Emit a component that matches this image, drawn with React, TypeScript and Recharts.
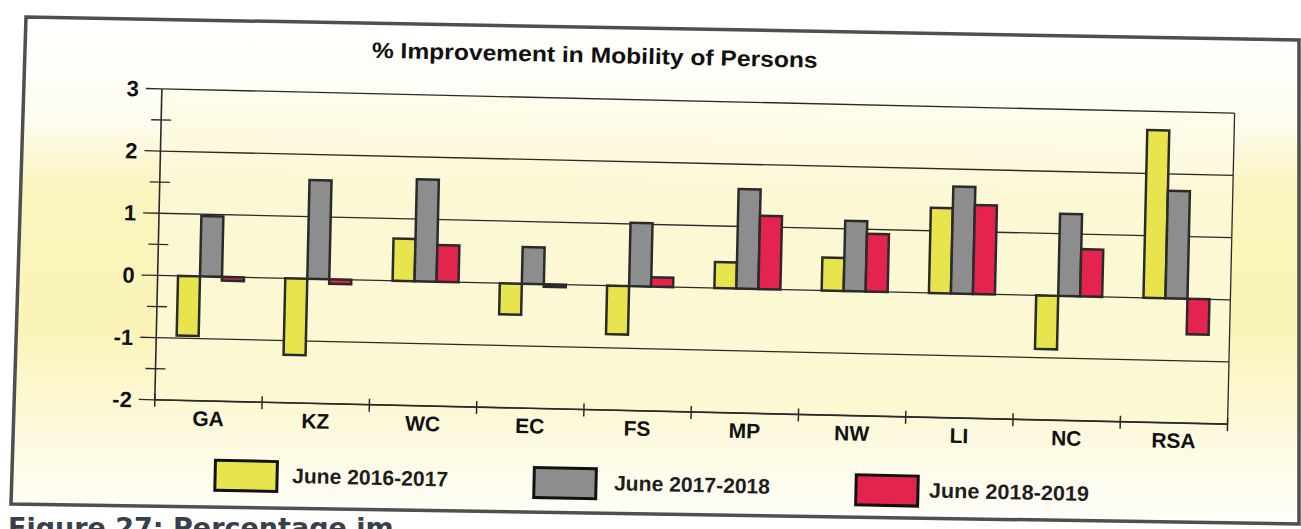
import React from 'react';
import { BarChart, Bar, XAxis, YAxis, CartesianGrid } from 'recharts';

// ---------- data ----------
const categories = ['GA', 'KZ', 'WC', 'EC', 'FS', 'MP', 'NW', 'LI', 'NC', 'RSA'];
const june2016_2017 = [-0.96, -1.23, 0.68, -0.5, -0.78, 0.42, 0.53, 1.37, -0.86, 2.7];
const june2017_2018 = [0.97, 1.59, 1.64, 0.59, 1.02, 1.6, 1.13, 1.72, 1.32, 1.73];
const june2018_2019 = [-0.06, -0.07, 0.59, -0.04, 0.15, 1.18, 0.93, 1.43, 0.76, -0.57];
const seriesNames = ['June 2016-2017', 'June 2017-2018', 'June 2018-2019'];
const seriesKeys = ['s0', 's1', 's2'];
const seriesColors = ['#e8e44e', '#8d8d8d', '#e4244e'];
const yTicks = [-2, -1.5, -1, -0.5, 0, 0.5, 1, 1.5, 2, 2.5, 3];
const gridValues = [-2, -1, 0, 1, 2, 3];
const titleText = '% Improvement in Mobility of Persons';
const captionText = 'Figure 27: Percentage im';

const data = categories.map((name, i) => ({
  name,
  s0: june2016_2017[i],
  s1: june2017_2018[i],
  s2: june2018_2019[i],
}));

// ---------- layout ----------
const W = 1301;
const H = 529;
const MARGIN = { top: 100, right: 70, bottom: 93, left: 98 };
const Y_AXIS_W = 60;
const X_AXIS_H = 25;
const PLOT_W = W - MARGIN.left - Y_AXIS_W - MARGIN.right;
const FONT = '"Liberation Sans", Arial, Helvetica, sans-serif';
const INK = '#2a2a2a';
const legendLayout = [
  { boxX: 220, textX: 297, textW: 156 },
  { boxX: 539, textX: 619, textW: 156 },
  { boxX: 861, textX: 934, textW: 160 },
];

const YTick = (props: any) => {
  const { x, y, payload } = props;
  const v = payload.value;
  const major = Number.isInteger(v);
  return (
    <g>
      {major ? (
        <line x1={x - 16} x2={x} y1={y} y2={y} stroke={INK} strokeWidth={1.3} />
      ) : (
        <line x1={x - 10} x2={x + 10} y1={y} y2={y} stroke={INK} strokeWidth={1.3} />
      )}
      {major && (
        <text
          x={x - 23}
          y={y}
          dy="0.36em"
          textAnchor="end"
          fontFamily={FONT}
          fontWeight={700}
          fontSize={22}
          fill="#111"
        >
          {v}
        </text>
      )}
    </g>
  );
};

const XTick = (props: any) => {
  const { x, y, payload, index, width, visibleTicksCount } = props;
  const n = visibleTicksCount || categories.length;
  const band = (width && n ? width : PLOT_W) / n;
  return (
    <g>
      <line x1={x - band / 2} x2={x - band / 2} y1={y - 6} y2={y + 7} stroke={INK} strokeWidth={1.5} />
      {index === n - 1 && (
        <line x1={x + band / 2} x2={x + band / 2} y1={y - 6} y2={y + 7} stroke={INK} strokeWidth={1.5} />
      )}
      <text
        x={x}
        y={y + 25}
        textAnchor="middle"
        fontFamily={FONT}
        fontWeight={700}
        fontSize={21}
        fill="#111"
      >
        {payload.value}
      </text>
    </g>
  );
};

export default function App() {
  return (
    <div
      style={{
        position: 'absolute',
        left: 0,
        top: 0,
        width: W,
        height: H,
        overflow: 'hidden',
        background: '#ffffff',
      }}
    >
      {/* scanned page frame + background */}
      <svg width={W} height={H} style={{ position: 'absolute', left: 0, top: 0 }}>
        <defs>
          <linearGradient id="pageBg" x1="0" y1="0" x2="0" y2="1">
            <stop offset="0" stopColor="#ffffff" />
            <stop offset="0.2" stopColor="#fefdf2" />
            <stop offset="0.34" stopColor="#fbf4bd" />
            <stop offset="0.62" stopColor="#fbf4b9" />
            <stop offset="0.82" stopColor="#fdf9de" />
            <stop offset="1" stopColor="#fefefa" />
          </linearGradient>
        </defs>
        <polygon
          points="26,17 1299,40 1299,524 11,504"
          fill="url(#pageBg)"
          stroke="#4f4f4f"
          strokeWidth={3.5}
        />
        <text
          x={8}
          y={537}
          fontFamily='"DejaVu Sans", Verdana, sans-serif'
          fontWeight={700}
          fontSize={27}
          fill="#3a3f4c"
        >
          {captionText}
        </text>
      </svg>

      {/* the chart itself (scan is slightly rotated) */}
      <div
        style={{
          position: 'absolute',
          left: 0,
          top: 0,
          width: W,
          height: H,
          transform: 'rotate(1.3deg)',
          transformOrigin: '650px 265px',
        }}
      >
        <BarChart
          width={W}
          height={H}
          data={data}
          margin={MARGIN}
          barCategoryGap="19%"
          barGap={0}
        >
          <defs>
            <linearGradient id="plotBg" x1="0" y1="0" x2="0" y2="1">
              <stop offset="0" stopColor="#fefcec" />
              <stop offset="0.3" stopColor="#fcf8d4" />
              <stop offset="1" stopColor="#fcf8d2" />
            </linearGradient>
          </defs>
          <CartesianGrid
            horizontalValues={gridValues}
            vertical={true}
            verticalCoordinatesGenerator={(p: any) => [p.offset.left + p.offset.width]}
            stroke={INK}
            strokeWidth={1.3}
            strokeDasharray=""
            fill="url(#plotBg)"
          />
          <XAxis
            dataKey="name"
            interval={0}
            height={X_AXIS_H}
            tickLine={false}
            tickSize={0}
            tickMargin={0}
            tick={<XTick />}
            axisLine={{ stroke: INK, strokeWidth: 1.6 }}
          />
          <YAxis
            type="number"
            domain={[-2, 3]}
            ticks={yTicks}
            interval={0}
            width={Y_AXIS_W}
            tickLine={false}
            tickSize={0}
            tickMargin={0}
            tick={<YTick />}
            axisLine={{ stroke: INK, strokeWidth: 1.6 }}
          />
          {seriesKeys.map((k, i) => (
            <Bar
              key={k}
              dataKey={k}
              name={seriesNames[i]}
              fill={seriesColors[i]}
              stroke={INK}
              strokeWidth={2.5}
              isAnimationActive={false}
            />
          ))}
        </BarChart>

        <svg
          width={W}
          height={H}
          style={{ position: 'absolute', left: 0, top: 0, pointerEvents: 'none' }}
        >
          <text
            x={590}
            y={64}
            textAnchor="middle"
            fontFamily={FONT}
            fontWeight={700}
            fontSize={22}
            fill="#111"
            textLength={446}
            lengthAdjust="spacingAndGlyphs"
          >
            {titleText}
          </text>
          {seriesNames.map((name, i) => (
            <g key={name}>
              <rect
                x={legendLayout[i].boxX}
                y={470}
                width={62}
                height={30}
                fill={seriesColors[i]}
                stroke="#111"
                strokeWidth={3}
              />
              <text
                x={legendLayout[i].textX}
                y={491}
                fontFamily={FONT}
                fontWeight={700}
                fontSize={21}
                fill="#1e1e1e"
                textLength={legendLayout[i].textW}
                lengthAdjust="spacingAndGlyphs"
              >
                {name}
              </text>
            </g>
          ))}
        </svg>
      </div>
    </div>
  );
}
